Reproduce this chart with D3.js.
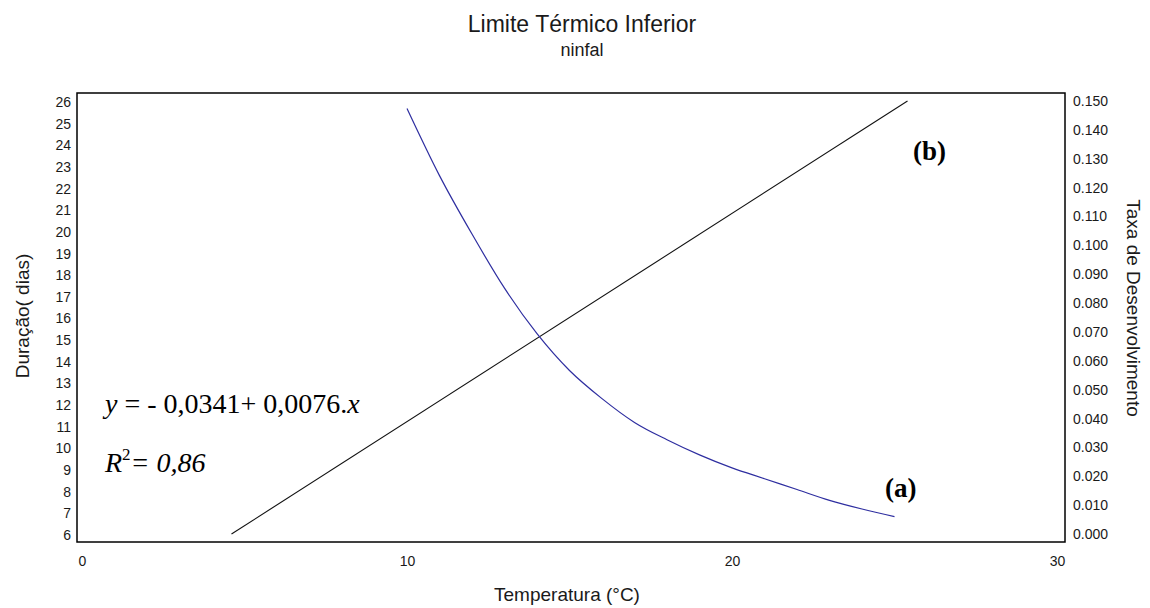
<!DOCTYPE html>
<html>
<head>
<meta charset="utf-8">
<script src="https://cdn.jsdelivr.net/npm/d3@7"></script>
<style>
  body { margin: 0; background: #fff; }
  text { font-family: Arial, "Liberation Sans", sans-serif; fill: #1a1a1a; }
  .serif { font-family: "Times New Roman", "Liberation Serif", serif; fill: #000; }
</style>
</head>
<body>
<div id="chart"></div>
<script>
// curve (a): duracao (dias) x temperatura
const tempCurva = [10, 11, 12, 13, 14, 15, 16, 17, 18, 19, 20, 21, 22, 23, 24, 25];
const duracao = [25.7, 22.6, 19.9, 17.4, 15.3, 13.6, 12.3, 11.2, 10.4, 9.7, 9.1, 8.6, 8.1, 7.6, 7.2, 6.85];

// line (b): taxa de desenvolvimento x temperatura
const tempReta = [4.6, 25.4];
const taxa = [0.000, 0.150];

// tick labels
const xTicks = [0, 10, 20, 30];
const diasTicks = [6, 7, 8, 9, 10, 11, 12, 13, 14, 15, 16, 17, 18, 19, 20, 21, 22, 23, 24, 25, 26];
const taxaTicks = [0.000, 0.010, 0.020, 0.030, 0.040, 0.050, 0.060, 0.070, 0.080, 0.090, 0.100, 0.110, 0.120, 0.130, 0.140, 0.150];

const width = 1150;
const height = 608;

const svg = d3.select("#chart")
    .append("svg")
    .attr("width", width)
    .attr("height", height);

// plot frame
const plotLeft = 77, plotRight = 1065, plotTop = 93, plotBottom = 542;

const x = d3.scaleLinear()
    .domain([0, 30])
    .range([82, 1057]);

const yDias = d3.scaleLinear()
    .domain([6, 26])
    .range([535, 102]);

const yTaxa = d3.scaleLinear()
    .domain([0, 0.15])
    .range([534, 101]);

// titles
svg.append("text")
    .attr("x", 582)
    .attr("y", 32)
    .attr("text-anchor", "middle")
    .style("font-size", "23px")
    .text("Limite Térmico Inferior");

svg.append("text")
    .attr("x", 582)
    .attr("y", 56)
    .attr("text-anchor", "middle")
    .style("font-size", "18px")
    .text("ninfal");

// axes (labels only, no tick marks)
const gx = svg.append("g")
    .attr("transform", `translate(0,${plotBottom})`)
    .call(d3.axisBottom(x).tickValues(xTicks).tickSize(0).tickPadding(14));

const gl = svg.append("g")
    .attr("transform", `translate(${plotLeft},0)`)
    .call(d3.axisLeft(yDias).tickValues(diasTicks).tickSize(0).tickPadding(6));

const gr = svg.append("g")
    .attr("transform", `translate(${plotRight},0)`)
    .call(d3.axisRight(yTaxa).tickValues(taxaTicks).tickFormat(d3.format(".3f")).tickSize(0).tickPadding(8));

[gx, gl, gr].forEach(g => {
    g.select(".domain").remove();
    g.selectAll("text")
        .style("font-size", "14px")
        .style("font-family", "Arial, 'Liberation Sans', sans-serif")
        .attr("fill", "#1a1a1a");
});

svg.append("rect")
    .attr("x", plotLeft)
    .attr("y", plotTop)
    .attr("width", plotRight - plotLeft)
    .attr("height", plotBottom - plotTop)
    .attr("fill", "none")
    .attr("stroke", "#000")
    .attr("stroke-width", 1.5);

// axis titles
svg.append("text")
    .attr("x", 567)
    .attr("y", 601)
    .attr("text-anchor", "middle")
    .style("font-size", "19px")
    .text("Temperatura (°C)");

svg.append("text")
    .attr("transform", "translate(29,316) rotate(-90)")
    .attr("text-anchor", "middle")
    .style("font-size", "19px")
    .text("Duração( dias)");

svg.append("text")
    .attr("transform", "translate(1127,308) rotate(90)")
    .attr("text-anchor", "middle")
    .style("font-size", "19px")
    .text("Taxa de Desenvolvimento");

// line (b)
const reta = tempReta.map((t, i) => [t, taxa[i]]);
svg.append("path")
    .datum(reta)
    .attr("fill", "none")
    .attr("stroke", "#111")
    .attr("stroke-width", 1.1)
    .attr("d", d3.line().x(d => x(d[0])).y(d => yTaxa(d[1])));

// curve (a)
const curva = tempCurva.map((t, i) => [t, duracao[i]]);
svg.append("path")
    .datum(curva)
    .attr("fill", "none")
    .attr("stroke", "#2e2ea0")
    .attr("stroke-width", 1.2)
    .attr("d", d3.line().curve(d3.curveMonotoneX).x(d => x(d[0])).y(d => yDias(d[1])));

// annotations
const eq = svg.append("text")
    .attr("class", "serif")
    .attr("x", 105)
    .attr("y", 413)
    .style("font-size", "28px");
eq.append("tspan").style("font-style", "italic").text("y");
eq.append("tspan").text(" = - 0,0341+ 0,0076.");
eq.append("tspan").style("font-style", "italic").text("x");

const r2 = svg.append("text")
    .attr("class", "serif")
    .attr("x", 105)
    .attr("y", 472)
    .style("font-size", "28px")
    .style("font-style", "italic");
r2.append("tspan").text("R");
r2.append("tspan").attr("dy", -12).style("font-size", "17px").style("font-style", "normal").text("2");
r2.append("tspan").attr("dy", 12).text("= 0,86");

svg.append("text")
    .attr("class", "serif")
    .attr("x", 913)
    .attr("y", 160)
    .style("font-size", "27px")
    .style("font-weight", "bold")
    .text("(b)");

svg.append("text")
    .attr("class", "serif")
    .attr("x", 885)
    .attr("y", 497)
    .style("font-size", "27px")
    .style("font-weight", "bold")
    .text("(a)");
</script>
</body>
</html>
